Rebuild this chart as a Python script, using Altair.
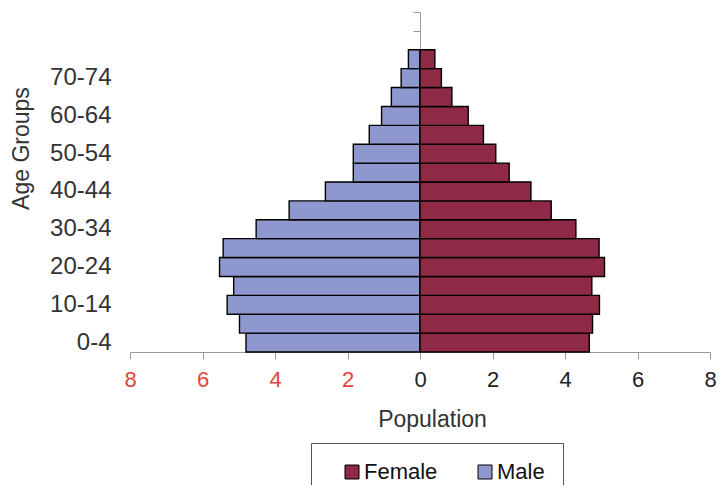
import altair as alt
import pandas as pd

age_groups = ["0-4", "5-9", "10-14", "15-19", "20-24", "25-29", "30-34", "35-39",
              "40-44", "45-49", "50-54", "55-59", "60-64", "65-69", "70-74", "75-79"]
empty_groups = ["80-84", "85-89"]
male = [4.80, 4.98, 5.32, 5.14, 5.53, 5.43, 4.52, 3.61, 2.61, 1.84, 1.84, 1.40, 1.06, 0.79, 0.52, 0.32]
female = [4.67, 4.76, 4.95, 4.74, 5.09, 4.94, 4.30, 3.62, 3.06, 2.46, 2.09, 1.75, 1.33, 0.88, 0.59, 0.41]
shown_labels = ["0-4", "10-14", "20-24", "30-34", "40-44", "50-54", "60-64", "70-74"]
x_ticks = [-8, -6, -4, -2, 0, 2, 4, 6, 8]

rows = []
for a, m, f in zip(age_groups, male, female):
    rows.append({"age": a, "sex": "Male", "value": -m})
    rows.append({"age": a, "sex": "Female", "value": f})
df = pd.DataFrame(rows)

y_domain = list(reversed(age_groups + empty_groups))
FONT = "Liberation Sans"
TXT = "#333333"
W = 580

y_scale = alt.Scale(domain=y_domain, paddingInner=0, paddingOuter=0)
x_scale = alt.Scale(domain=[-8, 8], nice=False)

bars = alt.Chart(df).mark_bar(stroke="black", strokeWidth=1.4).encode(
    x=alt.X("value:Q", scale=x_scale,
            axis=alt.Axis(values=x_ticks, labelExpr="abs(datum.value)",
                          labelColor=alt.condition("datum.value < 0", alt.value("#e2443b"), alt.value("#222222")),
                          labelFontSize=22, labelFont=FONT, labelPadding=10, labelFlush=False,
                          tickSize=7, tickColor="#999999", domainColor="#999999",
                          grid=False, title="Population", titleFont=FONT,
                          titleFontSize=23, titleFontWeight="normal", titleColor=TXT,
                          titleX=302, titleY=74, titleBaseline="alphabetic")),
    y=alt.Y("age:N", scale=y_scale,
            axis=alt.Axis(values=shown_labels, ticks=False, domain=False,
                          labelFontSize=24, labelFont=FONT, labelColor=TXT, labelPadding=19,
                          title="Age Groups", titleFont=FONT, titleFontSize=23,
                          titleFontWeight="normal", titleColor=TXT,
                          titleX=-102, titleY=136, titleBaseline="alphabetic")),
    color=alt.Color("sex:N",
                    scale=alt.Scale(domain=["Female", "Male"], range=["#8E2A45", "#8F97CF"]),
                    legend=alt.Legend(title=None, orient="none", direction="horizontal",
                                      legendX=181, legendY=431, padding=18,
                                      strokeColor="#555555", fillColor="white",
                                      symbolType="square", symbolSize=196, symbolOffset=12,
                                      symbolStrokeColor="black", symbolStrokeWidth=1,
                                      labelFont=FONT, labelFontSize=22, labelColor="#111111",
                                      labelOffset=1, columnPadding=24)),
)

center = alt.Chart(pd.DataFrame({"age": y_domain})).mark_point(opacity=0).encode(
    x=alt.X("datum_x:Q", scale=x_scale, axis=None),
    y=alt.Y("age:N", scale=y_scale,
            axis=alt.Axis(orient="left", offset=-W / 2, labels=False, title=None,
                          ticks=True, tickBand="extent", tickSize=7,
                          tickColor="#999999", domainColor="#999999")),
).transform_calculate(datum_x="0")

chart = alt.layer(bars, center).resolve_axis(
    y="independent", x="independent"
).properties(
    width=W, height=340,
    autosize=alt.AutoSizeParams(type="none"),
    padding={"left": 122, "top": 4, "right": 8, "bottom": 133},
).configure_view(stroke=None)

chart.save("out.html", embed_options={"renderer": "svg", "actions": False})
